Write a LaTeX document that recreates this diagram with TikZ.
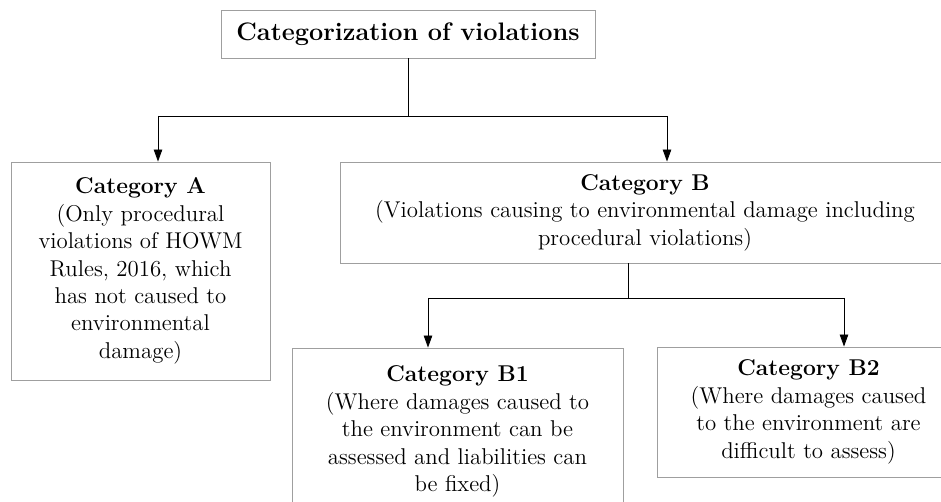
\documentclass[tikz,border=0pt]{standalone}
\usetikzlibrary{arrows.meta}

\begin{document}
\begin{tikzpicture}[x=0.2mm,y=-0.2mm,
  box/.style={draw=gray!75,line width=0.5pt,align=center,inner sep=0pt,
    font=\fontsize{13}{15.6}\selectfont},
  arr/.style={-{Triangle[length=2.4mm,width=1.7mm]},line width=0.5pt}]
\useasboundingbox (0,0) rectangle (941,502);
\clip (0,0) rectangle (941,502);

\node[box,minimum width=74.8mm,minimum height=9.6mm,
  font=\fontsize{14.4}{17}\selectfont\bfseries] (top) at (408,34) {Categorization of violations};
\node[box,minimum width=51.8mm,minimum height=43.6mm] (A) at (140.5,271)
  {\textbf{Category A}\\ (Only procedural\\ violations of HOWM\\ Rules, 2016, which\\
   has not caused to\\ environmental\\ damage)};
\node[box,minimum width=122mm,minimum height=20.2mm] (B) at (645,212.5)
  {\textbf{Category B}\\ (Violations causing to environmental damage including\\
   procedural violations)};
\node[box,minimum width=66.2mm,minimum height=33.4mm] (B1) at (457.5,431.5)
  {\textbf{Category B1}\\ (Where damages caused to\\ the environment can be\\
   assessed and liabilities can\\ be fixed)};
\node[box,minimum width=60.6mm,minimum height=26mm] (B2) at (808.5,412)
  {\textbf{Category B2}\\ (Where damages caused\\ to the environment are\\
   difficult to assess)};

% first level
\coordinate (ta) at (158,116);
\coordinate (tb) at (667,116);
\draw[line width=0.5pt] (top.south) -- (top.south |- ta);
\draw[line width=0.5pt] (ta) -- (tb);
\draw[arr] (ta) -- (ta |- A.north);
\draw[arr] (tb) -- (tb |- B.north);

% second level
\coordinate (sb) at (628,298);
\coordinate (tb1) at (428,298);
\coordinate (tb2) at (844,298);
\draw[line width=0.5pt] (sb |- B.south) -- (sb);
\draw[line width=0.5pt] (tb1) -- (tb2);
\draw[arr] (tb1) -- (tb1 |- B1.north);
\draw[arr] (tb2) -- (tb2 |- B2.north);
\end{tikzpicture}
\end{document}
